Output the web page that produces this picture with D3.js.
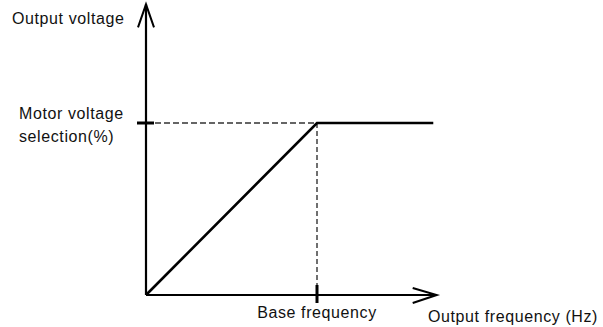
<!DOCTYPE html>
<html>
<head>
<meta charset="utf-8">
<script src="https://cdn.jsdelivr.net/npm/d3@7/dist/d3.min.js"></script>
<style>
  html, body { margin: 0; padding: 0; background: #fff; }
  svg { display: block; }
  text { font-family: "Liberation Sans", Arial, sans-serif; font-size: 16px; fill: #111; letter-spacing: 0.6px; }
</style>
</head>
<body>
<svg id="chart" width="603" height="327"></svg>
<script>
// V/f characteristic: output voltage rises linearly up to the base frequency, then stays constant.
const curveFrequency = [0, 100, 168];   // % of base frequency
const curveVoltage   = [0, 100, 100];   // % of motor voltage selection
const baseFrequency  = 100;
const motorVoltage   = 100;
const axisEnd        = 170;             // axis length, in the same % units
const axisTitles     = { x: "Output frequency (Hz)", y: "Output voltage" };
const tickLabels     = { x: ["Base frequency"], y: ["Motor voltage", "selection(%)"] };

const svg = d3.select("#chart");
const x = d3.scaleLinear().domain([0, 100]).range([146, 317]);
const y = d3.scaleLinear().domain([0, 100]).range([295, 123]);

const curve = curveFrequency.map((f, i) => [f, curveVoltage[i]]);

// axes
svg.append("line")
  .attr("x1", x(0)).attr("y1", y(0)).attr("x2", x(0)).attr("y2", y(axisEnd - 1))
  .attr("stroke", "#000").attr("stroke-width", 2.2);
svg.append("line")
  .attr("x1", x(0)).attr("y1", y(0)).attr("x2", x(axisEnd)).attr("y2", y(0))
  .attr("stroke", "#000").attr("stroke-width", 2.2);

// arrow heads
const ytip = [x(0), y(axisEnd - 1)];
svg.append("path")
  .attr("d", `M${ytip[0] - 8},${ytip[1] + 23} L${ytip[0]},${ytip[1]} L${ytip[0] + 8},${ytip[1] + 23}`)
  .attr("fill", "none").attr("stroke", "#000").attr("stroke-width", 2);
const xtip = [x(axisEnd), y(0)];
svg.append("path")
  .attr("d", `M${xtip[0] - 24},${xtip[1] - 7} L${xtip[0]},${xtip[1]} L${xtip[0] - 24},${xtip[1] + 8}`)
  .attr("fill", "none").attr("stroke", "#000").attr("stroke-width", 2);

// guide lines
svg.append("line")
  .attr("x1", x(0)).attr("y1", y(motorVoltage)).attr("x2", x(baseFrequency)).attr("y2", y(motorVoltage))
  .attr("stroke", "#333").attr("stroke-width", 1.4).attr("stroke-dasharray", "6,3");
svg.append("line")
  .attr("x1", x(baseFrequency)).attr("y1", y(motorVoltage)).attr("x2", x(baseFrequency)).attr("y2", y(0))
  .attr("stroke", "#333").attr("stroke-width", 1.4).attr("stroke-dasharray", "5,3");

// tick marks
svg.append("line")
  .attr("x1", x(0) - 9).attr("y1", y(motorVoltage)).attr("x2", x(0) + 8).attr("y2", y(motorVoltage))
  .attr("stroke", "#000").attr("stroke-width", 3);
svg.append("line")
  .attr("x1", x(baseFrequency)).attr("y1", y(0) - 10).attr("x2", x(baseFrequency)).attr("y2", y(0) + 8)
  .attr("stroke", "#000").attr("stroke-width", 3);

// characteristic
svg.append("path")
  .datum(curve)
  .attr("d", d3.line().x(d => x(d[0])).y(d => y(d[1])))
  .attr("fill", "none").attr("stroke", "#000").attr("stroke-width", 2.6)
  .attr("stroke-linejoin", "miter");

// labels
svg.append("text").attr("x", 12).attr("y", 24).text(axisTitles.y);
svg.append("text").attr("x", 428).attr("y", 322).text(axisTitles.x);
svg.append("text").attr("x", 19).attr("y", 119).text(tickLabels.y[0]);
svg.append("text").attr("x", 19).attr("y", 142).text(tickLabels.y[1]);
svg.append("text").attr("x", x(baseFrequency)).attr("y", 318)
  .attr("text-anchor", "middle").text(tickLabels.x[0]);
</script>
</body>
</html>
